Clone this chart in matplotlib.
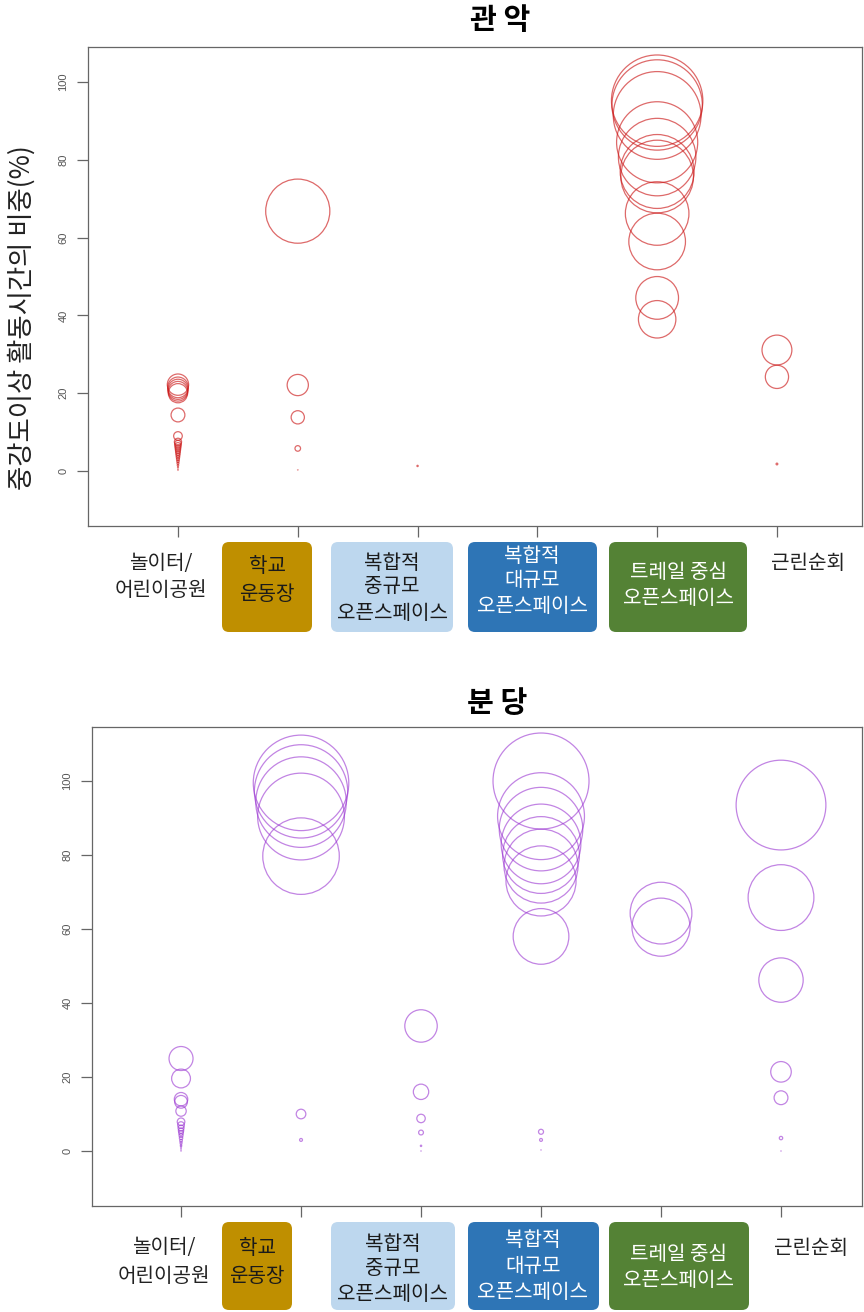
import matplotlib
matplotlib.use("Agg")
import matplotlib.pyplot as plt
from matplotlib.patches import FancyBboxPatch
from matplotlib.transforms import IdentityTransform

plt.rcParams['font.family'] = ['Noto Sans CJK KR', 'DejaVu Sans']

W, H = 864, 1312
DPI = 100

# ---- data: share of moderate+ activity time (%) by open-space type ----
types = ["놀이터/\n어린이공원", "학교\n운동장", "복합적\n중규모\n오픈스페이스",
         "복합적\n대규모\n오픈스페이스", "트레일 중심\n오픈스페이스", "근린순회"]

gwanak_playground = [22.2, 21.5, 21.0, 20.5, 20.0, 14.4, 9.0, 7.5, 7.0, 6.5, 6.0,
                     5.5, 5.0, 4.5, 4.0, 3.5, 3.0, 2.5, 2.0, 1.5, 1.0, 0.5, 0.2]
gwanak_school = [66.8, 22.1, 13.8, 5.8, 0.3]
gwanak_mid = [1.3]
gwanak_large = []
gwanak_trail = [95.2, 94.1, 91.4, 84.5, 80.7, 77.0, 75.7, 66.2, 59.0, 44.5, 39.0]
gwanak_neigh = [31.1, 24.2, 1.8]

bundang_playground = [25.0, 19.6, 14.0, 13.3, 10.8, 7.9, 7.0, 6.2, 5.5, 4.9,
                      4.2, 3.5, 2.8, 2.2, 1.6, 1.2, 0.7, 0.3, 0.0]
bundang_school = [99.5, 97.2, 94.3, 90.4, 79.7, 10.0, 3.0]
bundang_mid = [33.8, 16.0, 8.8, 5.0, 1.4, 0.0]
bundang_large = [100.0, 90.5, 87.0, 83.0, 80.0, 77.0, 73.0, 58.0, 5.2, 3.0, 0.3]
bundang_trail = [64.3, 60.5]
bundang_neigh = [93.5, 68.5, 46.2, 21.4, 14.4, 3.5, 0.0]

gwanak = [gwanak_playground, gwanak_school, gwanak_mid, gwanak_large,
          gwanak_trail, gwanak_neigh]
bundang = [bundang_playground, bundang_school, bundang_mid, bundang_large,
           bundang_trail, bundang_neigh]

yticks = [0, 20, 40, 60, 80, 100]

box_styles = [None,
              ("#BF8F00", "#1a1a1a"),
              ("#BDD7EE", "#1a1a1a"),
              ("#2E75B6", "white"),
              ("#548235", "white"),
              None]

fig = plt.figure(figsize=(W / DPI, H / DPI), dpi=DPI)


def px_axes(l, t, r, b):
    return [l / W, 1 - b / H, (r - l) / W, (b - t) / H]


# circle radius in pixels per unit of value
R_PER_UNIT = 0.48


def bubble_panel(rect, groups, xlim, ylim, color, alpha):
    ax = fig.add_axes(rect)
    for i, vals in enumerate(groups):
        if not vals:
            continue
        xs = [i + 1] * len(vals)
        diam_pt = [max(2 * R_PER_UNIT * v * 72 / DPI, 0.3) for v in vals]
        ax.scatter(xs, vals, s=[d ** 2 for d in diam_pt], facecolors="none",
                   edgecolors=color, alpha=alpha, linewidths=0.9, zorder=3)
    ax.set_xlim(*xlim)
    ax.set_ylim(*ylim)
    ax.set_xticks(range(1, 7))
    ax.set_xticklabels([])
    ax.set_yticks(yticks)
    ax.set_yticklabels([str(t) for t in yticks], rotation=90, va="center",
                       fontsize=8, color="#555555", family="Liberation Sans")
    ax.tick_params(axis="both", length=8, width=0.9, color="#666666", pad=6)
    for s in ax.spines.values():
        s.set_color("#666666")
        s.set_linewidth(0.9)
    return ax


def labels_row(specs):
    # specs: (center_x, [line y's], box (l, r, t, b) or None)
    for i, (cx, ys, box) in enumerate(specs):
        lines = types[i].split("\n")
        style = box_styles[i]
        if style is not None:
            l, r, t, b = box
            patch = FancyBboxPatch((l, H - b), r - l, b - t,
                                   boxstyle="round,pad=0,rounding_size=7",
                                   transform=IdentityTransform(),
                                   facecolor=style[0], edgecolor="none")
            fig.patches.append(patch)
            tc, fw = style[1], "medium"
        else:
            tc, fw = "#222222", "normal"
        for line, y in zip(lines, ys):
            fig.text(cx / W, 1 - y / H, line, ha="center", va="center",
                     fontsize=14.5, color=tc, fontweight=fw)


# top panel
ax1 = bubble_panel(px_axes(88, 47, 862, 526), gwanak, (0.249, 6.71),
                   (-14.14, 109.0), (0.8, 0.1, 0.1), 0.65)
fig.text(500 / W, 1 - 20 / H, "관 악", ha="center", va="center",
         fontsize=21, fontweight="bold")
fig.text(22 / W, 1 - 318 / H, "중강도이상 활동시간의 비중(%)", rotation=90,
         ha="center", va="center", fontsize=19, color="#222222")
labels_row([
    (161, [563, 591], None),
    (267, [567, 594], (222, 312, 542, 632)),
    (392, [563, 587, 613], (331, 453, 542, 632)),
    (532, [556, 580, 607], (468, 597, 542, 632)),
    (678, [573, 599], (609, 747, 542, 632)),
    (808, [563], None),
])

# bottom panel
ax2 = bubble_panel(px_axes(92, 727, 862, 1206), bundang, (0.258, 6.675),
                   (-14.86, 114.6), (0.6, 0.2, 0.82), 0.6)
fig.text(497 / W, 1 - 703 / H, "분 당", ha="center", va="center",
         fontsize=21, fontweight="bold")
labels_row([
    (164, [1248, 1276], None),
    (257, [1248, 1276], (222, 292, 1222, 1310)),
    (393, [1245, 1269, 1294], (331, 455, 1222, 1310)),
    (533, [1241, 1266, 1292], (468, 599, 1222, 1310)),
    (679, [1254, 1280], (609, 749, 1222, 1310)),
    (811, [1248], None),
])

fig.savefig("out.png", dpi=DPI)
